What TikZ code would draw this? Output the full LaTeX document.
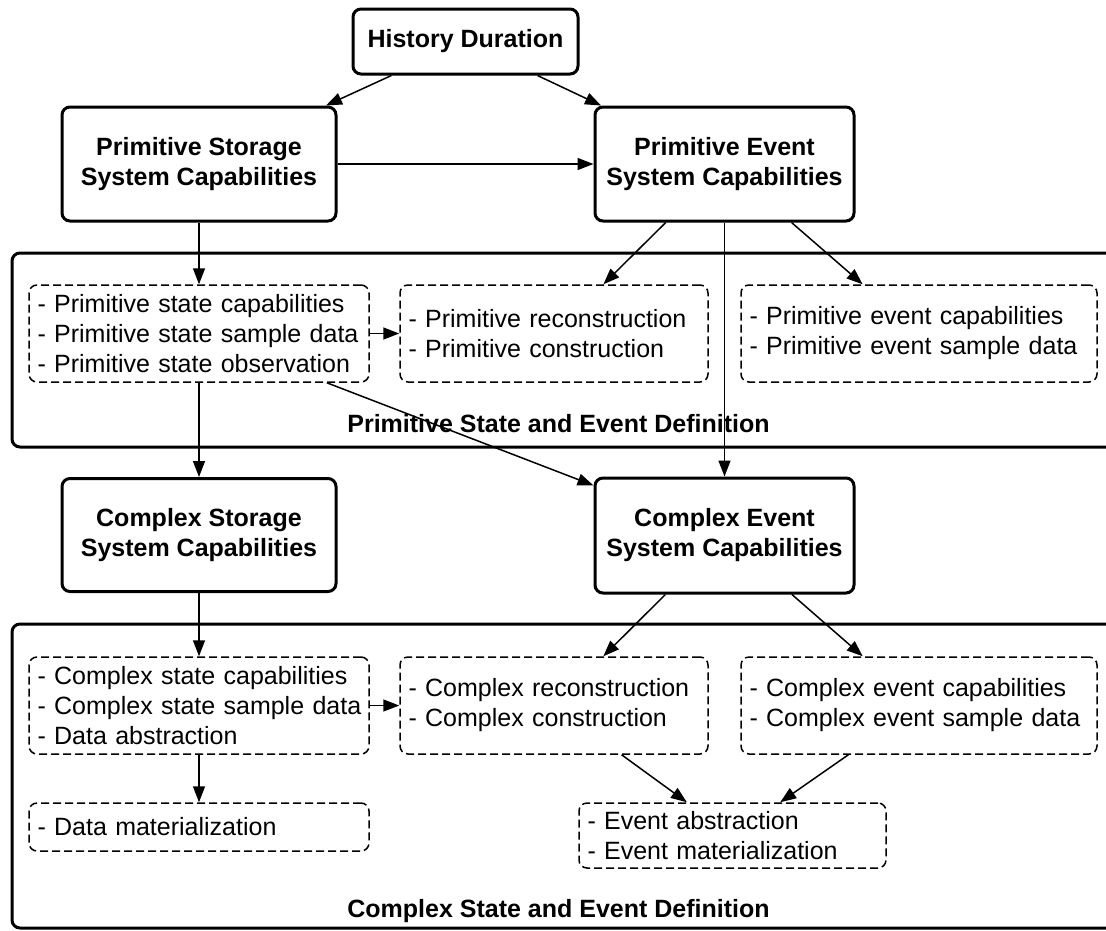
\documentclass[tikz,border=0pt]{standalone}
\usepackage{fontspec}
\setmainfont{Liberation Sans}
\usetikzlibrary{arrows.meta}

% one unbreakable line of a list
\newcommand{\li}[1]{\mbox{- #1}}

\tikzset{
  capbox/.style={draw, line width=3pt, rounded corners=8pt, inner sep=0pt,
    align=center, font=\fontsize{25}{30}\selectfont\bfseries},
  listbox/.style={draw, line width=1.5pt, dash pattern=on 8pt off 4pt,
    rounded corners=8pt, inner ysep=0pt, inner xsep=8.5pt, align=left,
    font=\fontsize{25}{30}\selectfont},
  frame/.style={line width=3pt, rounded corners=8pt},
  framelabel/.style={anchor=base, inner sep=0pt, font=\fontsize{25}{30}\selectfont\bfseries},
  link/.style={line width=1.5pt, -{Triangle[length=16pt,width=12pt]}},
}

\begin{document}
\begin{tikzpicture}[x=1pt,y=-1pt]
\useasboundingbox (0,0) rectangle (1106,930);
\begin{scope}
\clip (0,0) rectangle (1106,930);

% group frames (open to the right)
\draw[frame] (1125,253) -- (12,253) -- (12,447) -- (1125,447);
\draw[frame] (1125,624) -- (12,624) -- (12,928) -- (1125,928);
\node[framelabel] (plabel) at (558.5,432) {Primitive State and Event Definition};
\node[framelabel] (clabel) at (558.5,917) {Complex State and Event Definition};

% capability boxes
\node[capbox, minimum width=225pt, minimum height=65pt] (hd) at (465.5,41.5) {History Duration};
\node[capbox, minimum width=274pt, minimum height=114pt] (ps) at (199,164) {Primitive Storage\\System Capabilities};
\node[capbox, minimum width=259pt, minimum height=114pt] (pe) at (724.5,164) {Primitive Event\\System Capabilities};
\node[capbox, minimum width=274pt, minimum height=113pt] (cs) at (199,535) {Complex Storage\\System Capabilities};
\node[capbox, minimum width=259pt, minimum height=115pt] (ce) at (724.5,535.5) {Complex Event\\System Capabilities};

% primitive definitions
\node[listbox, text width=323pt, minimum height=97pt] (ps1) at (199,333.5)
  {\li{Primitive state capabilities}\\\li{Primitive state sample data}\\\li{Primitive state observation}};
\node[listbox, text width=291pt, minimum height=97pt] (pr) at (554,333.5)
  {\li{Primitive reconstruction}\\\li{Primitive construction}};
\node[listbox, text width=339pt, minimum height=97pt] (ped) at (919,333.5)
  {\li{Primitive event capabilities}\\\li{Primitive event sample data}};

% complex definitions
\node[listbox, text width=323pt, minimum height=97pt] (cs1) at (199,705.5)
  {\li{Complex state capabilities}\\\li{Complex state sample data}\\\li{Data abstraction}};
\node[listbox, text width=291pt, minimum height=97pt] (cr) at (554,705.5)
  {\li{Complex reconstruction}\\\li{Complex construction}};
\node[listbox, text width=339pt, minimum height=97pt] (ced) at (919,705.5)
  {\li{Complex event capabilities}\\\li{Complex event sample data}};
\node[listbox, text width=323pt, minimum height=48pt] (dm) at (199,827)
  {\li{Data materialization}};
\node[listbox, text width=290pt, minimum height=65pt] (ea) at (732.5,835.5)
  {\li{Event abstraction}\\\li{Event materialization}};

% connectors
\draw[link] (hd) -- (ps);
\draw[link] (hd) -- (pe);
\draw[link] (ps) -- (pe);
\draw[link] (ps) -- (ps1);
\draw[link] (pe) -- (pr);
\draw[link] (pe) -- (ped);
\draw[link] (pe) -- (ce);
\draw[link] (ps1) -- (pr);
\draw[link] (ps1) -- (cs);
\draw[link] (ps1) -- (ce);
\draw[link] (cs) -- (cs1);
\draw[link] (ce) -- (cr);
\draw[link] (ce) -- (ced);
\draw[link] (cs1) -- (cr);
\draw[link] (cs1) -- (dm);
\draw[link] (cr) -- (ea);
\draw[link] (ced) -- (ea);
\end{scope}
\end{tikzpicture}
\end{document}
